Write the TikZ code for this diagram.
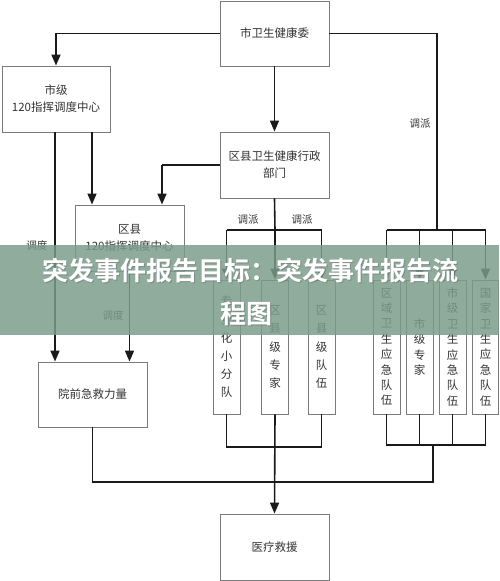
\documentclass[tikz,border=0pt]{standalone}
\usepackage{fontspec}
\newfontfamily\cjk{Noto Sans CJK SC}
\newfontfamily\cjkb{Noto Sans CJK SC Bold}
\usetikzlibrary{arrows.meta}
\definecolor{boxline}{HTML}{7A7A7A}
\definecolor{txt}{HTML}{333333}
\definecolor{conn}{HTML}{1A1A1A}
\definecolor{band}{HTML}{7A9C8A}
\begin{document}
\begin{tikzpicture}[x=1pt,y=-1pt,
  box/.style={draw=boxline,line width=0.9pt,fill=white,inner sep=0pt,text=txt,font=\cjk\fontsize{11.5}{17}\selectfont,align=center},
  vbox/.style={box,minimum width=27pt,minimum height=134pt},
  vboxm/.style={vbox,font=\cjk\fontsize{11.5}{18.2}\selectfont},
  vboxr/.style={vbox,font=\cjk\fontsize{11.5}{15.4}\selectfont},
  conn/.style={draw=conn,line width=1.6pt},
  arr/.style={conn,-{Triangle[width=9pt,length=11pt]}},
  lbl/.style={text=txt,font=\cjk\fontsize{10.5}{12}\selectfont,inner sep=0pt},
  bantext/.style={text=white,font=\cjkb\fontsize{26}{30}\selectfont,inner sep=0pt},
  banshadow/.style={bantext,text=black!60,opacity=0.45}]
\useasboundingbox (0,0) rectangle (499,581);
% boxes
\node[box,minimum width=109pt,minimum height=65pt] (wjw) at (274.5,33.5) {市卫生健康委};
\node[box,minimum width=108pt,minimum height=66pt] (sj) at (56,99) {市级\\120指挥调度中心};
\node[box,minimum width=109pt,minimum height=66pt] (qx) at (274.5,165) {区县卫生健康行政\\部门};
\node[box,minimum width=109pt,minimum height=66pt] (qx120) at (129.5,238) {区县\\120指挥调度中心};
\node[box,minimum width=109pt,minimum height=65pt] (yq) at (92.5,394.5) {院前急救力量};
\node[box,minimum width=109pt,minimum height=66pt] (yl) at (274.5,547) {医疗救援};
\node[vboxm] (m1) at (226.5,347) {专\\业\\化\\小\\分\\队};
\node[vboxm] (m2) at (275,347) {区\\县\\级\\专\\家};
\node[vboxm] (m3) at (321.5,347) {区\\县\\级\\队\\伍};
\node[vboxr] (r1) at (386.5,347) {区\\域\\卫\\生\\应\\急\\队\\伍};
\node[vboxr] (r2) at (419.5,347) {市\\级\\专\\家};
\node[vboxr] (r3) at (452.5,347) {市\\级\\卫\\生\\应\\急\\队\\伍};
\node[vboxr,minimum width=26pt] (r4) at (485.5,347) {国\\家\\卫\\生\\应\\急\\队\\伍};
% junction coordinates
\coordinate (rj) at (437,230);
\coordinate (mj) at (275,230);
\coordinate (rb) at (433,445);
\coordinate (mb) at (275,447);
\coordinate (bj) at (433,482);
% top connectors
\draw[arr] (wjw.west) -| (sj.north);
\draw[arr] (wjw.south) -- (qx.north);
\draw[conn] (wjw.east) -| (rj);
\draw[arr] ([xshift=32.5pt]qx120.north |- qx.west) -- ([xshift=32.5pt]qx120.north);
\draw[conn] (qx.west) -- ([xshift=32.5pt]qx120.north |- qx.west);
\draw[arr] ([xshift=36pt]sj.south) -- ([xshift=36pt]sj.south |- qx120.north);
\draw[arr] ([xshift=-1pt]sj.south) -- ([xshift=-1pt]sj.south |- yq.north);
\draw[arr] (qx120.south) -- (qx120.south |- yq.north);
% middle group
\draw[conn] (qx.south) -- (mj);
\draw[conn] (m1.north |- mj) -- (m3.north |- mj);
\draw[arr] (m1.north |- mj) -- (m1.north);
\draw[arr] (mj) -- (m2.north);
\draw[arr] (m3.north |- mj) -- (m3.north);
% right group
\draw[conn] (r1.north |- rj) -- (r4.north |- rj);
\draw[arr] (r1.north |- rj) -- (r1.north);
\draw[arr] (r2.north |- rj) -- (r2.north);
\draw[arr] (r3.north |- rj) -- (r3.north);
\draw[arr] (r4.north |- rj) -- (r4.north);
% bottom merges
\draw[conn] (m1.south) -- (m1.south |- mb) -- (m3.south |- mb) -- (m3.south);
\draw[conn] (r1.south) -- (r1.south |- rb) -- (r4.south |- rb) -- (r4.south);
\draw[conn] (r2.south) -- (r2.south |- rb);
\draw[conn] (r3.south) -- (r3.south |- rb);
\draw[conn] (yq.south) |- (bj) -- (rb);
\draw[arr] (m2.south) -- (yl.north);
% labels
\node[lbl] (l1) at (420,124) {调派};
\node[lbl] (l2) at (248,220) {调派};
\node[lbl] (l3) at (302,220) {调派};
\node[lbl] (l4) at (37,245) {调度};
\node[lbl] (l5) at (113,315) {调度};
% banner
\fill[band,opacity=0.84] (0,245) rectangle (499,335);
\node[banshadow] (bs1) at (251.5,272) {突发事件报告目标：突发事件报告流};
\node[banshadow] (bs2) at (247.5,315) {程图};
\node[bantext] (b1) at (250,270.5) {突发事件报告目标：突发事件报告流};
\node[bantext] (b2) at (246,313.5) {程图};
\end{tikzpicture}
\end{document}
